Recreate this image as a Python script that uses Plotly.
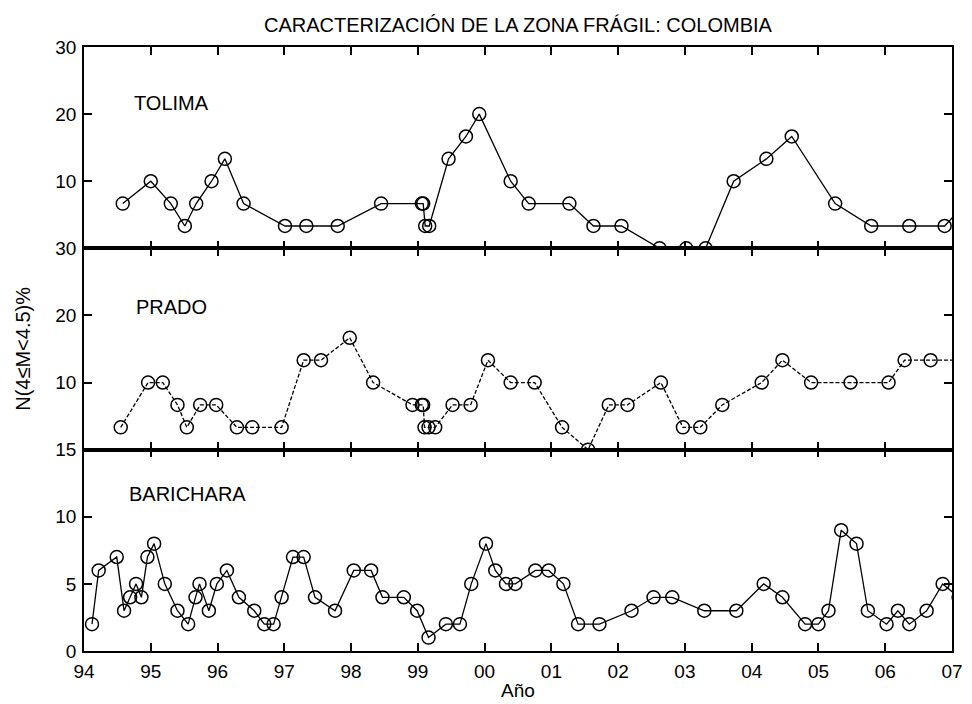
import plotly.graph_objects as go

# Year axis labels (two-digit years)
year_ticks = list(range(94, 108))
year_labels = ["94", "95", "96", "97", "98", "99", "00", "01", "02", "03", "04", "05", "06", "07"]

# TOLIMA
tol_year = [94.58, 95.00, 95.30, 95.51, 95.68, 95.91, 96.11, 96.39, 97.01, 97.33, 97.80, 98.45,
            99.06, 99.08, 99.11, 99.17, 99.46, 99.72, 99.92, 100.39, 100.66, 101.27, 101.63, 102.05,
            102.62, 103.02, 103.31, 103.73, 104.22, 104.60, 105.25, 105.79, 106.36, 106.89, 107.20]
tol_val = [6.67, 10, 6.67, 3.33, 6.67, 10, 13.33, 6.67, 3.33, 3.33, 3.33, 6.67,
           6.67, 6.67, 3.33, 3.33, 13.33, 16.67, 20, 10, 6.67, 6.67, 3.33, 3.33,
           0, 0, 0, 10, 13.33, 16.67, 6.67, 3.33, 3.33, 3.33, 6.67]

# PRADO
pra_year = [94.55, 94.96, 95.18, 95.40, 95.54, 95.74, 95.98, 96.29, 96.52, 96.96,
            97.29, 97.55, 97.98, 98.33, 98.92, 99.06, 99.08, 99.10, 99.16, 99.26,
            99.52, 99.79, 100.05, 100.39, 100.75, 101.16, 101.55, 101.86, 102.14, 102.64,
            102.97, 103.23, 103.56, 104.15, 104.46, 104.89, 105.48, 106.05, 106.29, 106.68, 107.20]
pra_val = [3.33, 10, 10, 6.67, 3.33, 6.67, 6.67, 3.33, 3.33, 3.33,
           13.33, 13.33, 16.67, 10, 6.67, 6.67, 6.67, 3.33, 3.33, 3.33,
           6.67, 6.67, 13.33, 10, 10, 3.33, 0, 6.67, 6.67, 10,
           3.33, 3.33, 6.67, 10, 13.33, 10, 10, 10, 13.33, 13.33, 13.33]

# BARICHARA
bar_year = [94.12, 94.22, 94.49, 94.60, 94.69, 94.78, 94.86, 94.95, 95.05,
            95.21, 95.40, 95.56, 95.67, 95.73, 95.87, 95.99,
            96.14, 96.32, 96.55, 96.70, 96.84, 96.96,
            97.13, 97.29, 97.46, 97.76,
            98.04, 98.30, 98.47, 98.79, 98.99,
            99.16, 99.42, 99.63, 99.80,
            100.02, 100.16, 100.32, 100.46, 100.76, 100.96,
            101.18, 101.40, 101.72,
            102.20, 102.53, 102.81,
            103.29, 103.77,
            104.18, 104.46, 104.80,
            105.00, 105.15, 105.34, 105.57, 105.74,
            106.02, 106.19, 106.36, 106.62, 106.86,
            107.10]
bar_val = [2, 6, 7, 3, 4, 5, 4, 7, 8,
           5, 3, 2, 4, 5, 3, 5,
           6, 4, 3, 2, 2, 4,
           7, 7, 4, 3,
           6, 6, 4, 4, 3,
           1, 2, 2, 5,
           8, 6, 5, 5, 6, 6,
           5, 2, 2,
           3, 4, 4,
           3, 3,
           5, 4, 2,
           2, 3, 9, 8, 3,
           2, 3, 2, 3, 5,
           4]

FONT = "Arial, 'Liberation Sans', sans-serif"
BLACK = "#000000"


def series(x, y, xa, ya, dash="solid"):
    return go.Scatter(
        x=x, y=y, xaxis=xa, yaxis=ya, mode="lines+markers",
        line=dict(color=BLACK, width=1.3, dash=dash),
        marker=dict(symbol="circle-open", size=13, color=BLACK, line=dict(width=1.5, color=BLACK)),
        showlegend=False, cliponaxis=True,
    )


fig = go.Figure()
fig.add_trace(series(tol_year, tol_val, "x3", "y3"))
fig.add_trace(series(pra_year, pra_val, "x2", "y2", dash="4px,2px"))
fig.add_trace(series(bar_year, bar_val, "x", "y"))

axis_common = dict(
    showline=True, linecolor=BLACK, linewidth=1.6, mirror="ticks",
    ticks="inside", ticklen=8, tickwidth=1.5, tickcolor=BLACK,
    showgrid=False, zeroline=False,
    tickfont=dict(family=FONT, size=19, color=BLACK),
)

xaxis_common = dict(axis_common, range=[94, 107], tickvals=year_ticks, ticktext=year_labels)

fig.update_layout(
    width=972, height=704,
    margin=dict(l=84, r=9, t=47, b=53),
    paper_bgcolor="white", plot_bgcolor="white",
    font=dict(family=FONT, color=BLACK),
    xaxis=dict(xaxis_common, anchor="y", domain=[0, 1], ticklabelstandoff=2),
    xaxis2=dict(xaxis_common, anchor="y2", domain=[0, 1], showticklabels=False),
    xaxis3=dict(xaxis_common, anchor="y3", domain=[0, 1], showticklabels=False),
    yaxis=dict(axis_common, anchor="x", domain=[0, 1/3], range=[0, 15],
               tickvals=[0, 5, 10, 15], ticklabelstandoff=2),
    yaxis2=dict(axis_common, anchor="x2", domain=[1/3, 2/3], range=[0, 30],
                tickvals=[10, 20, 30], ticklabelstandoff=2),
    yaxis3=dict(axis_common, anchor="x3", domain=[2/3, 1], range=[0, 30],
                tickvals=[10, 20, 30], ticklabelstandoff=2),
)

label_font = dict(family=FONT, size=20, color=BLACK)
ann = [
    dict(text="CARACTERIZACIÓN DE LA ZONA FRÁGIL: COLOMBIA", xref="paper", yref="paper",
         x=0.5, y=1.0 + 22 / 604, xanchor="center", yanchor="middle", showarrow=False,
         font=dict(family=FONT, size=20, color=BLACK)),
    dict(text="Año", xref="paper", yref="paper", x=0.5, y=-40 / 604,
         xanchor="center", yanchor="middle", showarrow=False, font=dict(family=FONT, size=19, color=BLACK)),
    dict(text="N(4≤M<4.5)%", xref="paper", yref="paper", x=-62 / 879, y=0.5, textangle=-90,
         xanchor="center", yanchor="middle", showarrow=False, font=dict(family=FONT, size=20, color=BLACK)),
    dict(text="TOLIMA", xref="x3", yref="y3", x=94.72, y=21.7, xanchor="left", yanchor="middle",
         showarrow=False, font=label_font),
    dict(text="PRADO", xref="x2", yref="y2", x=94.75, y=21.3, xanchor="left", yanchor="middle",
         showarrow=False, font=label_font),
    dict(text="BARICHARA", xref="x", yref="y", x=94.65, y=11.7, xanchor="left", yanchor="middle",
         showarrow=False, font=label_font),
]
fig.update_layout(annotations=ann)

fig.write_html("out.html")
